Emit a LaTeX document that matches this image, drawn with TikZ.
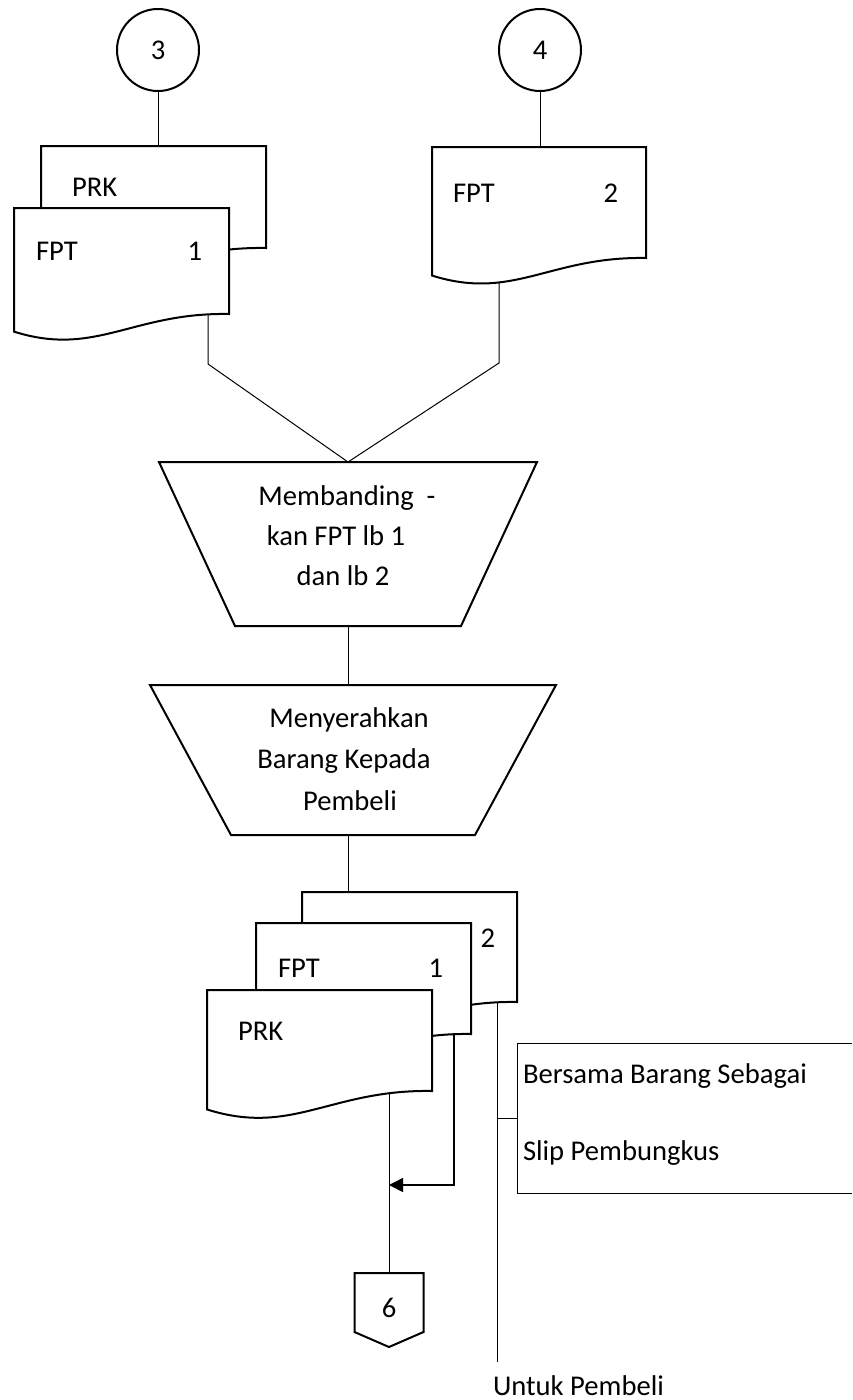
\documentclass[tikz,border=0pt]{standalone}
\usepackage{fontspec}
\setmainfont{Carlito}
\usetikzlibrary{calc,arrows.meta}
\pgfdeclarelayer{conn}
\pgfdeclarelayer{shapes}
\pgfsetlayers{conn,shapes,main}

\tikzset{
  every node/.style={font=\fontsize{28.6}{40}\selectfont, inner sep=0pt, outer sep=0pt},
  shapeline/.style={draw=black, line width=2pt, line join=miter, fill=white},
  connline/.style={draw=black, line width=1pt},
  noteline/.style={draw=black, line width=1pt},
  arrowline/.style={draw=black, line width=1.5pt, -{Triangle[length=14pt,width=14pt]}},
  connector/.style={circle, draw=black, line width=2pt, minimum size=82pt},
  blankbox/.style={rectangle, draw=none}
}

% document symbol: name, left x, top y, width, height (right edge)
\newcommand\docsheet[5]{%
  \node[blankbox, anchor=north west, minimum width=#4, minimum height=#5] (#1) at (#2,#3) {};
  \begin{pgfonlayer}{shapes}
    \path[shapeline] (#1.north west) -- (#1.north east) -- (#1.south east)
      .. controls ($(#1.south west)+(0.55*#4,-0.008*#4)$) and ($(#1.south west)+(0.38*#4,0.202*#4)$)
      .. ($(#1.south west)+(0,0.082*#4)$) -- cycle;
  \end{pgfonlayer}}

\begin{document}
\begin{tikzpicture}[x=1pt, y=-1pt]
\useasboundingbox (0,0) rectangle (852,1400);

% on-page connectors
\node[connector] (c3) at (158,50) {3};
\node[connector] (c4) at (540,50) {4};

% input documents
\docsheet{prkA}{41}{146}{225}{102}
\docsheet{fptA}{14}{208}{215}{106}
\docsheet{fptB}{432}{147}{214}{111}

\node[anchor=base west] (tPrkA) at (72,196) {PRK};
\node[anchor=base west] (tFptA) at (36,260) {FPT};
\node[anchor=base east] (nFptA) at (202,260) {1};
\node[anchor=base west] (tFptB) at (453,202) {FPT};
\node[anchor=base east] (nFptB) at (618,202) {2};

% manual operations
\node[blankbox, minimum width=378, minimum height=164] (cmp) at (348,544) {};
\path[shapeline] (cmp.north west) -- (cmp.north east) -- ($(cmp.south east)+(-76,0)$)
  -- ($(cmp.south west)+(76,0)$) -- cycle;
\node[anchor=base] (cmpA) at (347,505) {Membanding\ \ -};
\node[anchor=base] (cmpB) at (336,545) {kan FPT lb 1};
\node[anchor=base] (cmpC) at (343,585) {dan lb 2};

\node[blankbox, minimum width=406, minimum height=150] (hand) at (353,760) {};
\path[shapeline] (hand.north west) -- (hand.north east) -- ($(hand.south east)+(-81,0)$)
  -- ($(hand.south west)+(81,0)$) -- cycle;
\node[anchor=base] (handA) at (349,727) {Menyerahkan};
\node[anchor=base] (handB) at (344,768) {Barang Kepada};
\node[anchor=base] (handC) at (350,810) {Pembeli};

% output documents
\docsheet{copyB}{302}{892}{215}{110}
\docsheet{fptC}{256}{923}{215}{111}
\docsheet{prkC}{207}{990}{225}{101}

\node[anchor=base east] (nCopyB) at (495,947) {2};
\node[anchor=base west] (tFptC) at (278,977) {FPT};
\node[anchor=base east] (nFptC) at (443,977) {1};
\node[anchor=base west] (tPrkC) at (238,1040) {PRK};

% off-page connector
\node[blankbox, anchor=north, minimum width=69, minimum height=74] (off6) at (389,1273) {};
\path[shapeline] (off6.north west) -- (off6.north east) -- ($(off6.south east)+(0,-15)$)
  -- (off6.south) -- ($(off6.south west)+(0,-15)$) -- cycle;
\node[anchor=base] (tOff6) at (389,1317) {6};

% annotation
\node[blankbox, anchor=north west, minimum width=335, minimum height=150] (note) at (517,1043) {};
\path[noteline] (note.north east) -- (note.north west) -- (note.south west) -- (note.south east);
\node[anchor=base west] (noteA) at (523,1083) {Bersama Barang Sebagai};
\node[anchor=base west] (noteB) at (523,1160) {Slip Pembungkus};
\node[anchor=base west] (dest) at (493,1395) {Untuk Pembeli};

% flow lines
\coordinate (jA) at ($(fptA.south west)+(194,0)$);
\coordinate (jB) at ($(fptB.south west)+(67,0)$);
\coordinate (jC) at ($(prkC.south west)+(182,0)$);
\coordinate (jD) at ($(fptC.south west)+(198,0)$);
\coordinate (jE) at ($(copyB.south west)+(195,0)$);
\coordinate (endE) at (jE |- 0,1362);

\begin{pgfonlayer}{conn}
  \draw[connline] (c3.south) -- (c3.south |- prkA.north);
  \draw[connline] (c4.south) -- (c4.south |- fptB.north);
  \draw[connline] (jA) -- ++(0,50) -- (cmp.north);
  \draw[connline] (jB) -- ++(0,105) -- (cmp.north);
  \draw[connline] (cmp.south) -- (cmp.south |- hand.north);
  \draw[connline] (cmp.south |- hand.south) -- (cmp.south |- copyB.north);
  \draw[connline] (jC) -- (jC |- off6.north);
  \draw[arrowline] (jD) -- (jD |- 0,1185) -- (jC |- 0,1185);
  \draw[connline] (jE) -- (endE);
  \draw[connline] (jE |- note.west) -- (note.west);
\end{pgfonlayer}
\end{tikzpicture}
\end{document}
